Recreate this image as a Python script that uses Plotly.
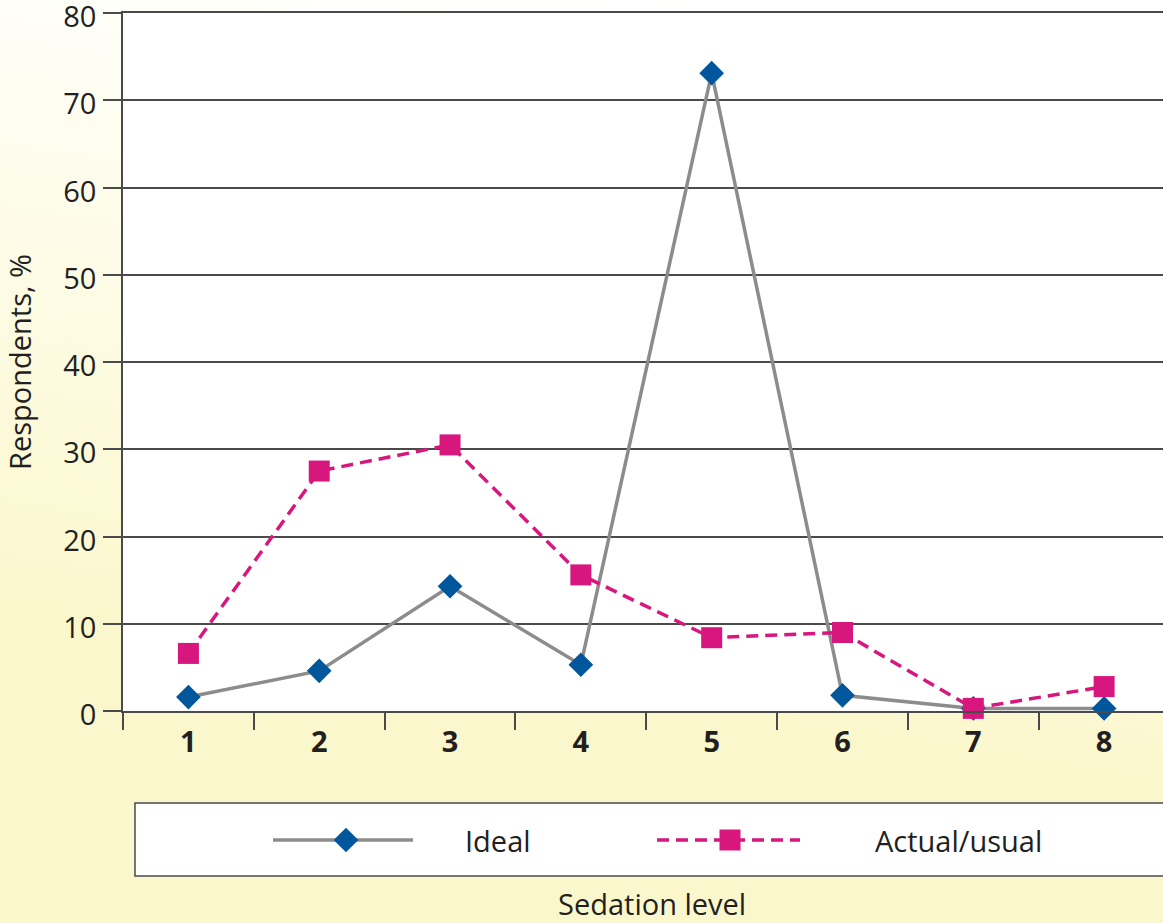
import base64
import plotly.graph_objects as go

# Survey data: share of respondents at each sedation level
levels = [1, 2, 3, 4, 5, 6, 7, 8]
ideal = [1.6, 4.6, 14.3, 5.3, 73.1, 1.8, 0.3, 0.3]
actual = [6.6, 27.5, 30.5, 15.6, 8.4, 9.0, 0.3, 2.8]
series_names = ["Ideal", "Actual/usual"]
y_ticks = [0, 10, 20, 30, 40, 50, 60, 70, 80]

W, H = 1163, 923
ML, MT = 123, 13
PW, PH = W - ML, H - MT          # paper extent in pixels
AXIS_BOTTOM = 711                # pixel row of the x axis
y_dom0 = (H - AXIS_BOTTOM) / PH

FONT = "Open Sans"
TXT = "#231F20"
BLUE = "#02579C"
PINK = "#D7177E"
GREY = "#8C8C8C"
AXC = "#4A4A4A"
FS = 29

fig = go.Figure()

fig.add_trace(go.Scatter(
    x=levels, y=ideal, name=series_names[0], mode="lines+markers",
    line=dict(color=GREY, width=3.5),
    marker=dict(symbol="diamond", size=19, color=BLUE),
    cliponaxis=False, xaxis="x", yaxis="y", showlegend=False,
))
fig.add_trace(go.Scatter(
    x=levels, y=actual, name=series_names[1], mode="lines+markers",
    line=dict(color=PINK, width=3.5, dash="12px,7px"),
    marker=dict(symbol="square", size=21, color=PINK),
    cliponaxis=False, xaxis="x", yaxis="y", showlegend=False,
))

# Legend key glyphs, drawn on a hidden pixel-scaled axis pair below the plot
key_y = 840
key_specs = [
    dict(x0=273, x1=413, xm=346, tx=463),
    dict(x0=657, x1=800, xm=730, tx=873),
]
for k, spec in zip(range(2), key_specs):
    tr = fig.data[k]
    fig.add_trace(go.Scatter(
        x=[spec["x0"], spec["x1"]], y=[key_y, key_y], mode="lines",
        line=tr.line, xaxis="x2", yaxis="y2", showlegend=False,
        hoverinfo="skip", cliponaxis=False,
    ))
    fig.add_trace(go.Scatter(
        x=[spec["xm"]], y=[key_y], mode="markers",
        marker=tr.marker, xaxis="x2", yaxis="y2", showlegend=False,
        hoverinfo="skip", cliponaxis=False,
    ))
    fig.add_annotation(
        x=spec["tx"], y=key_y, xref="x2", yref="y2", text=series_names[k],
        showarrow=False, xanchor="left", yanchor="middle",
        font=dict(family=FONT, size=FS, color=TXT),
    )

# Axis title under the legend frame
fig.add_annotation(
    x=652, y=903, xref="x2", yref="y2", text="Sedation level",
    showarrow=False, xanchor="center", yanchor="middle",
    font=dict(family=FONT, size=FS, color=TXT),
)

# Background: white at the top fading to cream toward the bottom
svg = (
    f'<svg xmlns="http://www.w3.org/2000/svg" width="{W}" height="{H}">'
    '<defs><linearGradient id="g" x1="0.6" y1="0" x2="0.45" y2="0.76">'
    '<stop offset="0" stop-color="#ffffff"/>'
    '<stop offset="0.3" stop-color="#fefdf0"/>'
    '<stop offset="1" stop-color="#fbf7cc"/>'
    '</linearGradient></defs>'
    f'<rect width="{W}" height="{H}" fill="url(#g)"/></svg>'
)
bg_src = "data:image/svg+xml;base64," + base64.b64encode(svg.encode()).decode()

fig.update_layout(
    width=W, height=H, autosize=False,
    margin=dict(l=ML, r=0, t=MT, b=0, pad=0, autoexpand=False),
    paper_bgcolor="#fbf7cc",
    plot_bgcolor="rgba(0,0,0,0)",
    font=dict(family=FONT, size=FS, color=TXT),
    images=[dict(
        source=bg_src, xref="paper", yref="paper",
        x=-ML / PW, y=1 + MT / PH, sizex=W / PW, sizey=H / PH,
        xanchor="left", yanchor="top", sizing="stretch", layer="below",
    )],
    shapes=[
        # white plotting area
        dict(type="rect", xref="x domain", yref="y domain", x0=0, x1=1, y0=0, y1=1,
             fillcolor="white", line=dict(width=0), layer="below"),
        # legend frame
        dict(type="rect", xref="x2", yref="y2", x0=135, x1=1175, y0=803, y1=876,
             fillcolor="white", line=dict(color=AXC, width=1.5), layer="below"),
    ],
    xaxis=dict(
        domain=[0, 1], anchor="y", range=[0.5, 8.45], automargin=False,
        tickmode="array", tickvals=levels, ticktext=[str(v) for v in levels],
        ticks="outside", ticklen=4, tickcolor="rgba(0,0,0,0)",
        tickfont=dict(family=FONT, size=FS, color=TXT, weight="bold"),
        minor=dict(tickmode="array", tickvals=[v - 0.5 for v in levels],
                   ticks="outside", ticklen=17, tickwidth=1.5, tickcolor=AXC,
                   showgrid=False),
        showline=True, mirror=True, linecolor=AXC, linewidth=1.5,
        showgrid=False, zeroline=False, fixedrange=True,
    ),
    yaxis=dict(
        domain=[y_dom0, 1], anchor="x", range=[0, 80], automargin=False,
        tickmode="array", tickvals=y_ticks, ticktext=[str(v) for v in y_ticks],
        ticks="outside", ticklen=18, tickwidth=1.5, tickcolor=AXC,
        ticklabelstandoff=1, ticklabelshift=4, ticklabeloverflow="allow",
        tickfont=dict(family=FONT, size=FS, color=TXT),
        showline=True, linecolor=AXC, linewidth=1.5,
        showgrid=True, gridcolor=AXC, gridwidth=1.5,
        zeroline=False, fixedrange=True,
        title=dict(text="Respondents, %", standoff=30,
                   font=dict(family=FONT, size=FS, color=TXT)),
    ),
    xaxis2=dict(domain=[0, 1], anchor="y2", range=[ML, W], visible=False,
                fixedrange=True),
    yaxis2=dict(domain=[0, 0.2], anchor="x2", range=[H, H - 0.2 * PH],
                visible=False, fixedrange=True),
)

fig.write_html("out.html")
